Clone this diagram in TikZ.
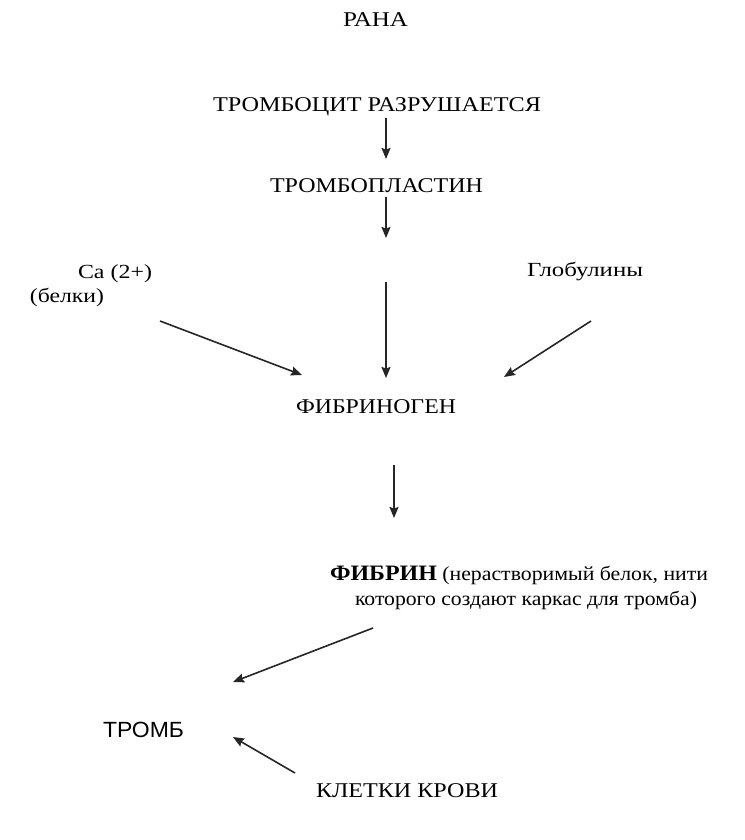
\documentclass[tikz,border=0pt]{standalone}
\usepackage{fontspec}
\setmainfont{Liberation Serif}
\newfontfamily\sansf{Liberation Sans}
\usetikzlibrary{arrows.meta}
\newcommand{\fitw}[2]{\resizebox{#1}{\height}{#2}}
\begin{document}
\begin{tikzpicture}[x=1pt,y=-1pt,
  lbl/.style={anchor=base west, inner sep=0pt, outer sep=0pt, font=\fontsize{21}{25}\selectfont},
  small/.style={lbl, font=\fontsize{20}{24}\selectfont},
  arr/.style={-{Stealth[length=11pt,width=9pt,inset=1.5pt]}, line width=1.6pt, draw=black!85}]
\useasboundingbox[fill=white] (0,0) rectangle (744,840);
% labels
\node[lbl] (rana) at (343,27) {\fitw{65pt}{РАНА}};
\node[lbl] (trombocit) at (213,112) {\fitw{328pt}{ТРОМБОЦИТ РАЗРУШАЕТСЯ}};
\node[lbl] (tromboplastin) at (270,192) {\fitw{213pt}{ТРОМБОПЛАСТИН}};
\node[small] (ca) at (78,278) {\fitw{74pt}{Ca (2+)}};
\node[small] (belki) at (30,302) {\fitw{74pt}{(белки)}};
\node[small] (glob) at (527,276) {\fitw{116pt}{Глобулины}};
\node[lbl] (fibrinogen) at (296,413) {\fitw{160pt}{ФИБРИНОГЕН}};
\node[small] (fib1) at (330,580) {\fitw{378pt}{\textbf{\fontsize{22}{26}\selectfont ФИБРИН} (нерастворимый белок, нити}};
\node[small] (fib2) at (355,605) {\fitw{342pt}{которого создают каркас для тромба)}};
\node[lbl, font=\sansf\fontsize{22}{26}\selectfont] (tromb) at (103,737) {\fitw{81pt}{ТРОМБ}};
\node[lbl] (kletki) at (316,797) {\fitw{182pt}{КЛЕТКИ КРОВИ}};
% arrow end points
\coordinate (a1s) at (386,118); \coordinate (a1e) at (386,159);
\coordinate (a2s) at (386,197); \coordinate (a2e) at (386,238);
\coordinate (acs) at (386,282); \coordinate (ace) at (386,378);
\coordinate (als) at (160,321); \coordinate (ale) at (302,375);
\coordinate (ars) at (591,321); \coordinate (are) at (504,377);
\coordinate (a3s) at (394,465); \coordinate (a3e) at (394,518);
\coordinate (a4s) at (373,628); \coordinate (a4e) at (233,682);
\coordinate (a5s) at (295,773); \coordinate (a5e) at (233,737);
% arrows
\draw[arr] (a1s) -- (a1e);
\draw[arr] (a2s) -- (a2e);
\draw[arr] (acs) -- (ace);
\draw[arr] (als) -- (ale);
\draw[arr] (ars) -- (are);
\draw[arr] (a3s) -- (a3e);
\draw[arr] (a4s) -- (a4e);
\draw[arr] (a5s) -- (a5e);
\end{tikzpicture}
\end{document}
